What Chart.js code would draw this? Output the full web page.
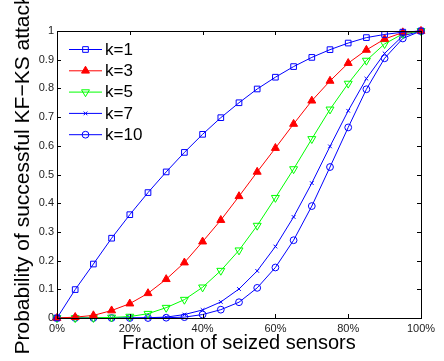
<!DOCTYPE html>
<html>
<head>
<meta charset="utf-8">
<style>
html,body{margin:0;padding:0;background:#fff;}
canvas{display:block;}
</style>
<script src="https://cdn.jsdelivr.net/npm/chart.js"></script>
</head>
<body>
<canvas id="c" width="444" height="361"></canvas>
<script>
// ---- data ----
const fractions = [0,5,10,15,20,25,30,35,40,45,50,55,60,65,70,75,80,85,90,95,100];
const k1  = [0,0.099,0.188,0.278,0.360,0.437,0.509,0.577,0.640,0.698,0.750,0.798,0.839,0.876,0.908,0.935,0.958,0.977,0.988,0.996,1];
const k3  = [0,0.003,0.009,0.026,0.050,0.086,0.135,0.193,0.266,0.341,0.424,0.509,0.592,0.676,0.757,0.826,0.888,0.934,0.972,0.995,1];
const k5  = [0,0,0.0005,0.002,0.005,0.015,0.036,0.064,0.107,0.165,0.236,0.322,0.419,0.519,0.624,0.727,0.817,0.897,0.955,0.990,1];
const k7  = [0,0,0,0,0,0.001,0.003,0.012,0.028,0.056,0.101,0.164,0.249,0.352,0.470,0.598,0.722,0.834,0.922,0.983,1];
const k10 = [0,0,0,0,0,0,0.001,0.003,0.012,0.029,0.055,0.105,0.176,0.271,0.390,0.526,0.664,0.797,0.905,0.974,1];
const seriesNames = ['k=1','k=3','k=5','k=7','k=10'];
const xTickLabels = ['0%','20%','40%','60%','80%','100%'];
const yTickLabels = ['0','0.1','0.2','0.3','0.4','0.5','0.6','0.7','0.8','0.9','1'];
const xTitle = 'Fraction of seized sensors';
const yTitle = 'Probability of successful KF\u2212KS attack';

const FONT = '"Liberation Sans", Arial, Helvetica, sans-serif';

function pts(vals){ return fractions.map((f,i)=>({x:f,y:vals[i]})); }

const styles = [
  {color:'#0000ff', pointStyle:'rect', radius:4, fill:false, rotation:0},
  {color:'#ff0000', pointStyle:'triangle', radius:4.6, fill:true, rotation:0},
  {color:'#00ff00', pointStyle:'triangle', radius:4.6, fill:false, rotation:180},
  {color:'#0000ff', pointStyle:'crossRot', radius:2.6, fill:false, rotation:0},
  {color:'#0000ff', pointStyle:'circle', radius:3.4, fill:false, rotation:0}
];
const allSeries = [k1,k3,k5,k7,k10];

const datasets = allSeries.map((vals,i)=>{
  const s = styles[i];
  return {
    label: seriesNames[i],
    data: pts(vals),
    borderColor: s.color,
    backgroundColor: s.color,
    borderWidth: 1,
    pointStyle: s.pointStyle,
    pointRadius: s.radius,
    pointRotation: s.rotation,
    pointBorderColor: s.color,
    pointBackgroundColor: s.fill ? s.color : 'rgba(0,0,0,0)',
    pointBorderWidth: 1,
    tension: 0,
    clip: false
  };
});

function drawMarker(ctx, style, x, y, r, rot, color, fill){
  ctx.save();
  ctx.strokeStyle = color; ctx.fillStyle = color; ctx.lineWidth = 1;
  ctx.translate(x,y);
  ctx.rotate(rot*Math.PI/180);
  ctx.beginPath();
  if (style==='rect'){
    const s = Math.SQRT1_2*r;
    ctx.rect(-s,-s,2*s,2*s);
  } else if (style==='triangle'){
    for (let k=0;k<3;k++){
      const a = -Math.PI/2 + k*2*Math.PI/3;
      const px = r*Math.cos(a), py = r*Math.sin(a);
      if(k===0) ctx.moveTo(px,py); else ctx.lineTo(px,py);
    }
    ctx.closePath();
  } else if (style==='crossRot'){
    const s = Math.SQRT1_2*r;
    ctx.moveTo(-s,-s); ctx.lineTo(s,s); ctx.moveTo(-s,s); ctx.lineTo(s,-s);
  } else if (style==='circle'){
    ctx.arc(0,0,r,0,Math.PI*2);
  }
  if (fill) ctx.fill();
  ctx.stroke();
  ctx.restore();
}

const framePlugin = {
  id:'frame',
  afterDraw(chart){
    const {ctx, chartArea:a, scales} = chart;
    ctx.save();
    ctx.strokeStyle = '#000';
    ctx.lineWidth = 1;
    // box
    ctx.strokeRect(Math.round(a.left)+0.5, Math.round(a.top)+0.5, Math.round(a.right-a.left), Math.round(a.bottom-a.top));
    // inward ticks
    const tl = 4;
    ctx.beginPath();
    scales.x.ticks.forEach(t=>{
      const px = Math.round(scales.x.getPixelForValue(t.value))+0.5;
      ctx.moveTo(px, a.bottom); ctx.lineTo(px, a.bottom - tl);
      ctx.moveTo(px, a.top); ctx.lineTo(px, a.top + tl);
    });
    scales.y.ticks.forEach(t=>{
      const py = Math.round(scales.y.getPixelForValue(t.value))+0.5;
      ctx.moveTo(a.left, py); ctx.lineTo(a.left + tl, py);
      ctx.moveTo(a.right, py); ctx.lineTo(a.right - tl, py);
    });
    ctx.stroke();
    ctx.restore();
  }
};

const legendPlugin = {
  id:'mlegend',
  afterDatasetsDraw(chart){
    const {ctx, chartArea:a} = chart;
    const x0 = a.left + 12, x1 = a.left + 45, y0 = a.top + 18, dy = 21.3;
    ctx.save();
    chart.data.datasets.forEach((ds,i)=>{
      const y = y0 + i*dy;
      const s = styles[i];
      ctx.strokeStyle = s.color; ctx.lineWidth = 1;
      ctx.beginPath(); ctx.moveTo(x0, y+0.5); ctx.lineTo(x1, y+0.5); ctx.stroke();
      drawMarker(ctx, s.pointStyle, (x0+x1)/2, y+0.5, s.radius, s.rotation, s.color, s.fill);
      ctx.fillStyle = '#000';
      ctx.font = '17px ' + FONT;
      ctx.textBaseline = 'middle';
      ctx.textAlign = 'left';
      ctx.fillText(ds.label, x1 + 3, y + 1);
    });
    ctx.restore();
  }
};

new Chart(document.getElementById('c'), {
  type:'line',
  data:{ datasets },
  options:{
    responsive:false,
    animation:false,
    devicePixelRatio:1,
    layout:{ padding:{ top:31, right:23, left:0, bottom:0 } },
    plugins:{ legend:{display:false}, tooltip:{enabled:false} },
    scales:{
      x:{
        type:'linear', min:0, max:100,
        grid:{ display:false, drawTicks:false },
        border:{ display:false },
        ticks:{ stepSize:20, padding:4, color:'#222', font:{family:FONT, size:11},
          callback:(v,i)=> xTickLabels[Math.round(v/20)] },
        title:{ display:true, text:xTitle, color:'#000', font:{family:FONT, size:20}, padding:{top:0,bottom:6} },
        afterFit(s){ s.height = 43; }
      },
      y:{
        type:'linear', min:0, max:1,
        grid:{ display:false, drawTicks:false },
        border:{ display:false },
        ticks:{ stepSize:0.1, padding:3, color:'#222', font:{family:FONT, size:11},
          callback:(v)=> yTickLabels[Math.round(v*10)] },
        title:{ display:true, text:yTitle, color:'#000', font:{family:FONT, size:21}, padding:{top:11,bottom:0} },
        afterFit(s){ s.width = 57; }
      }
    }
  },
  plugins:[framePlugin, legendPlugin]
});
</script>
</body>
</html>
